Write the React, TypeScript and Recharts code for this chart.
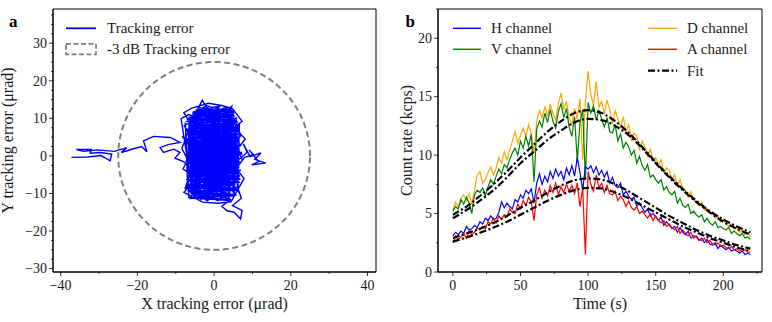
import React from 'react';
import { ComposedChart, Line, XAxis, YAxis, ReferenceArea } from 'recharts';

const FONT = '"Liberation Serif", "DejaVu Serif", "Times New Roman", serif';
const TEXT = '#1a1a1a';

// ---------- Panel a : tracking error ----------
const TRACK: [number, number][] = [
  [-37.2, -0.4], [-33, -0.3], [-29.5, 0.1], [-27.1, -1.3], [-26.7, 0.5], [-29.7, 0.9], [-32.3, 0.7], [-32, 1.7],
  [-35.9, 1.7], [-34, 1.2], [-30.5, 1.6], [-26, 1.2], [-22.8, 2.2], [-24.2, 0.9], [-21, 1.9], [-18.9, 2.5],
  [-17.5, 1.1], [-18.4, 4.0], [-15.8, 5.2], [-11.4, 4.9], [-8.9, 3.6], [-12, 3.0], [-14.1, 2.2], [-13.2, 0.9],
  [-10.5, 1.8], [-8.9, 0.9], [-10.2, -0.6], [-8.0, -1.5],
  [-5.2, -4.1], [-2.8, -1.0], [-4.6, 2.7], [-1.5, 5.3], [1.8, 3.2], [4.1, 6.0], [2.5, 9.4], [-0.8, 11.2],
  [-3.6, 8.7], [-5.9, 10.1], [-4.2, 12.6], [-1.9, 10.4], [0.7, 12.8], [3.2, 11.5], [5.4, 9.8], [4.8, 7.1],
  [6.3, 4.6], [3.7, 2.2], [5.6, -0.8], [2.9, -3.4], [4.7, -6.1], [1.6, -8.3], [-1.2, -6.0], [-3.8, -8.7],
  [-6.1, -6.4], [-4.3, -3.2], [-6.8, -0.9], [-5.1, 1.9], [-7.2, 4.3], [-4.7, 6.5], [-2.1, 3.9], [0.4, 6.8],
  [2.7, 4.5], [0.9, 1.2], [3.4, -1.6], [0.6, -3.9], [-2.0, -2.1], [-0.3, 0.7], [2.2, -0.4], [4.9, 2.6],
  [6.8, 0.9], [5.2, -2.9], [6.6, -5.3], [3.9, -8.2], [5.7, -10.4], [2.4, -11.1], [-0.9, -9.7], [-3.5, -11.6],
  [-5.7, -9.2], [-3.0, -6.6], [-5.5, -4.8], [-2.4, -5.4], [0.2, -7.1], [2.1, -5.0], [-0.6, -2.6], [-3.3, 0.4],
  [-1.0, 2.8], [1.5, 0.3], [-1.7, -1.4], [-4.4, -0.2], [-6.3, 2.8], [-3.9, 4.9], [-6.0, 7.6], [-3.2, 6.2],
  [-0.5, 8.9], [2.0, 7.0], [4.4, 8.6], [2.6, 10.8], [-0.2, 9.5], [-2.8, 11.9], [-5.3, 9.3], [-7.8, 8.1],
  [-6.4, 5.6], [-3.6, 2.0], [-5.8, -2.2], [-7.0, -4.9], [-4.9, -7.3], [-2.2, -8.9], [0.7, -10.6], [3.0, -9.4],
  [1.2, -6.5], [3.8, -4.3], [1.0, -1.8], [3.9, 0.6], [1.6, 2.6], [4.3, 4.2], [6.1, 2.0], [7.4, -1.2],
  [5.0, -3.8], [2.3, -2.3], [-0.8, -4.5], [-3.4, -3.0], [-1.4, 0.1], [-4.1, 1.5], [-2.3, 4.4], [0.6, 3.0],
  [3.1, 5.4], [5.6, 6.8], [3.5, 8.0], [0.8, 10.0], [-1.6, 7.5], [-4.5, 7.9], [-2.7, 9.8], [-4.9, 11.4],
  [-2.3, 13.2], [0.3, 11.6], [2.9, 12.9], [5.1, 11.2],
  [-6.2, -11.3], [5.1, -10.6], [-5.8, -9.9], [6.3, -9.1], [-7.1, -8.4], [5.6, -7.7], [-6.4, -6.8], [6.9, -6.2],
  [-5.9, -5.3], [5.8, -4.7], [-7.4, -3.9], [6.6, -3.1], [-6.1, -2.4], [7.2, -1.6], [-6.8, -0.8], [6.0, 0.1],
  [-7.0, 0.9], [6.8, 1.6], [-5.7, 2.5], [6.1, 3.3], [-6.9, 4.0], [5.4, 4.8], [-6.3, 5.7], [6.2, 6.4],
  [-7.2, 7.1], [5.0, 8.0], [-6.0, 8.8], [5.7, 9.5], [-6.6, 10.3], [4.9, 11.1], [-5.2, 11.8], [4.3, 12.5],
  [-4.8, 12.2], [5.3, 11.6], [-6.1, 10.8], [6.0, 10.0], [-7.4, 9.2], [5.5, 8.5], [-6.7, 7.6], [6.6, 6.9],
  [-6.0, 6.1], [5.9, 5.2], [-7.3, 4.5], [6.7, 3.7], [-6.2, 2.9], [5.5, 2.1], [-6.9, 1.3], [7.4, 0.5],
  [-6.4, -0.3], [6.3, -1.2], [-7.2, -2.0], [5.7, -2.8], [-6.6, -3.5], [6.4, -4.3], [-5.6, -5.1], [6.1, -5.9],
  [-7.0, -6.6], [5.2, -7.4], [-6.3, -8.1], [6.0, -8.9], [-5.5, -9.6], [4.6, -10.4], [-4.9, -11.2], [3.8, -11.9],
  [3.6, -7.5], [6.2, -8.6], [7.1, -11.3], [4.8, -13.2], [7.3, -14.5], [6.9, -16.8], [5.2, -15.0], [3.4, -14.6],
  [2.0, -13.4], [4.1, -11.8], [1.5, -10.0], [-1.8, -11.9], [-4.4, -10.1], [-2.6, -7.6], [0.4, -8.5], [2.8, -6.9],
  [5.9, -7.1], [4.2, -4.9], [6.4, -2.6], [7.9, -0.4], [10.3, 0.3], [9.1, 1.6], [11.6, -1.5], [9.8, -2.4],
  [13.4, -1.9], [10.6, -0.9], [12.2, 0.8], [9.4, -0.2],
  [7.6, 3.2], [8.6, 1.0], [6.0, -1.5], [3.3, 1.5], [0.2, -0.9], [-2.6, 1.2], [-5.4, -1.0], [-3.1, -3.8],
  [-6.3, -5.6], [-4.0, -7.9], [-6.9, -8.5], [-5.0, -11.0], [-2.1, -10.2], [0.9, -11.9], [3.5, -10.3], [1.9, -8.0],
  [-7.0, -8.6], [-6.5, 10.4], [-6.0, -10.2], [-5.4, 11.9], [-4.9, -11.0], [-4.3, 12.4], [-3.8, -10.5], [-3.2, 11.2],
  [-2.7, -11.4], [-2.1, 12.6], [-1.6, -10.1], [-1.0, 11.7], [-0.5, -11.6], [0.1, 12.3], [0.6, -10.8], [1.2, 11.0],
  [1.7, -11.2], [2.3, 12.1], [2.8, -10.3], [3.4, 11.4], [3.9, -11.0], [4.5, 10.6], [5.0, -9.8], [5.6, 9.9],
  [6.1, -8.9], [6.6, 8.6],
  [-0.9, -6.3], [-3.7, -5.0], [-1.1, -3.2], [1.7, -4.6], [4.4, -2.0], [2.1, 0.9], [-0.6, 2.1], [-3.0, -0.5],
  [-5.6, 0.6], [-3.5, 3.1], [-0.9, 4.6], [1.7, 6.3], [4.7, 5.2], [2.4, 2.8], [5.3, 1.1], [2.8, -1.1],
  [0.0, -2.4], [-2.7, -4.2], [-5.2, -2.8], [-7.3, 1.2], [-8.6, 9.9], [-6.6, 11.0], [-4.0, 9.9], [-1.3, 12.1],
  [1.8, 10.7], [4.6, 13.2], [3.9, 10.2], [6.0, 8.0], [3.2, 6.9], [0.3, 5.0], [-2.5, 6.7], [-5.0, 4.3],
  [6.3, -9.5], [5.8, 10.3], [5.2, -10.6], [4.7, 11.5], [4.1, -9.9], [3.6, 12.2], [3.0, -11.5], [2.5, 11.1],
  [1.9, -10.0], [1.4, 12.4], [0.8, -11.0], [0.3, 11.3], [-0.3, -10.3], [-0.8, 12.0], [-1.4, -11.3], [-1.9, 11.0],
  [-2.5, -10.0], [-3.0, 12.0], [-3.6, -11.2], [-4.1, 11.3], [-4.7, -10.1], [-5.2, 10.8], [-5.8, -9.4], [-6.3, 9.9],
  [-6.9, -7.8], [-7.5, 8.9],
  [-6.6, -11.1], [5.7, -10.3], [-6.9, -9.5], [5.9, -8.7], [-6.0, -7.9], [6.5, -7.1], [-7.3, -6.3], [5.4, -5.5],
  [-6.5, -4.7], [7.0, -3.9], [-6.2, -3.1], [6.2, -2.3], [-7.5, -1.5], [6.9, -0.7], [-6.0, 0.1], [7.3, 0.9],
  [-6.7, 1.7], [5.8, 2.5], [-7.1, 3.3], [6.4, 4.1], [-5.9, 4.9], [6.0, 5.7], [-7.0, 6.5], [5.6, 7.3],
  [-6.5, 8.1], [6.1, 8.9], [-7.1, 9.7], [5.2, 10.5], [-5.7, 11.3], [4.0, 12.1], [-4.4, 12.8],
  [5.0, 12.0], [-5.6, 11.4], [5.5, 10.6], [-6.9, 9.8], [6.3, 9.0], [-6.2, 8.2], [5.2, 7.4], [-7.0, 6.6],
  [6.4, 5.8], [-6.6, 5.0], [5.6, 4.2], [-7.2, 3.4], [6.9, 2.6], [-6.0, 1.8], [6.2, 1.0], [-7.4, 0.2],
  [5.9, -0.6], [-6.5, -1.4], [6.8, -2.2], [-5.8, -3.0], [6.0, -3.8], [-7.2, -4.6], [5.5, -5.4], [-6.1, -6.2],
  [6.7, -7.0], [-5.8, -7.8], [5.3, -8.6], [-6.8, -9.4], [4.9, -10.2], [-5.4, -11.0], [4.2, -11.6],
  [-8.3, 5.2], [-5.0, 3.0], [-8.1, -3.5], [-4.5, -6.0], [-7.9, -9.7], [-3.0, -12.3], [1.0, -12.6], [4.4, -12.2],
  [7.8, -6.0], [4.0, -1.0], [8.1, 4.5], [5.2, 7.6], [7.3, 9.2], [4.8, 12.6], [2.0, 13.4], [-1.5, 14.0],
  [-5.8, 12.7], [-7.9, 11.5], [-6.0, 8.4], [-8.4, 2.0], [-6.5, -1.8],
  [-4.2, -6.8], [2.9, 3.1], [-5.5, 9.0], [4.0, -8.8], [-1.2, 6.4], [5.8, -1.9], [-6.7, -5.0], [1.6, 11.9],
  [-2.9, -9.6], [6.2, 7.5], [-3.8, 0.8], [3.3, -11.4], [-6.1, 3.6], [0.2, -5.8], [4.9, 9.8], [-5.2, -10.5],
  [2.2, -2.0], [-0.7, 10.2], [6.6, -6.3], [-7.1, 6.8], [1.1, -9.9], [-3.0, 4.9], [5.4, 0.4], [-4.8, -2.6],
  [3.8, 6.0], [-1.9, -11.8], [0.5, 8.1], [-6.4, -7.9], [4.6, -4.4], [-2.4, 12.4], [6.9, 2.9], [-5.9, 0.0],
  [2.6, -7.3], [-0.4, 1.9],
  [-2.2, 1.8], [0.8, -0.3], [3.6, -2.9], [1.1, -5.6], [-1.9, -7.3], [-4.7, -5.9], [-2.0, -3.6], [1.4, -2.6],
  [4.0, -5.6], [6.5, -4.0], [5.5, -6.8], [2.6, -8.9], [-0.4, -9.2], [-3.3, -9.9], [-6.2, -7.4], [-7.6, -8.8],
  [-5.9, -3.6], [-3.6, -1.4], [-0.8, 1.6], [2.4, 3.7], [5.0, 3.6], [7.0, 5.4], [5.8, 8.6], [2.0, 8.6],
  [-1.0, 6.1], [-3.8, 5.5], [-1.2, 3.3], [1.9, 1.8], [4.5, -0.2], [6.2, -3.2], [3.1, -5.2], [0.3, -3.3],
  [-2.4, -0.8], [-4.7, 3.6], [-2.0, 7.0], [1.0, 8.2], [-1.4, 9.9], [-4.6, 10.5], [-3.8, 13.4], [-3.1, 14.8],
  [-2.4, 13.6], [-0.7, 12.9], [1.5, 13.2], [-1.0, 10.9], [0.9, 9.0], [3.6, 9.6], [1.3, 7.3], [-1.8, 8.2],
  [-0.3, 4.9], [-3.4, 4.2], [-1.6, 1.5], [1.0, -1.2], [-1.3, -4.9], [-4.0, -2.4], [-1.7, 0.4], [0.5, 2.3],
  [2.9, 0.0], [0.0, -1.4],
];
const CIRCLE_RADIUS = 25; // -3 dB tracking-error radius (µrad)

const A_X_MAJOR = [-40, -20, 0, 20, 40];
const A_X_MINOR = [-30, -10, 10, 30];
const A_Y_MAJOR = [-30, -20, -10, 0, 10, 20, 30];
const A_Y_MINOR = [-27.5, -25, -22.5, -17.5, -15, -12.5, -7.5, -5, -2.5, 2.5, 5, 7.5, 12.5, 15, 17.5, 22.5, 25, 27.5, 32.5, 35, 37.5];
const A_X_DOMAIN: [number, number] = [-42, 42.2];
const A_Y_DOMAIN: [number, number] = [-30.9, 39.1];

// ---------- Panel b : count rates ----------
const TIME_STEP = 2;
const H_CH = [
  3.1, 3.4, 3.2, 3.5, 3.3, 3.9, 3.6, 3.7, 4.0, 3.8,
  4.3, 4.1, 4.6, 4.4, 4.8, 4.5, 4.6, 5.1, 6.0, 5.5,
  5.9, 5.6, 5.4, 6.2, 6.0, 6.6, 6.3, 7.0, 6.7, 7.1,
  5.9, 7.6, 8.4, 7.5, 8.2, 7.7, 8.6, 8.0, 8.8, 8.2,
  8.6, 7.9, 8.9, 8.3, 9.1, 8.2, 9.8, 8.5, 7.0, 9.0,
  8.8, 9.1, 8.5, 9.0, 8.3,
  8.7, 8.1, 8.6, 7.6, 8.1, 7.4, 7.2, 7.6, 6.6, 6.9,
  6.5, 6.2, 6.4, 5.6, 5.9, 5.5, 5.1, 5.4, 4.8, 5.0,
  4.7, 4.4, 4.7, 4.0, 4.3, 4.0, 3.7, 3.9, 3.4, 3.8,
  3.4, 3.2, 3.5, 2.9, 3.1, 3.0, 2.7, 2.9, 2.5, 2.8,
  2.4, 2.3, 2.5, 2.0, 2.3, 2.1, 1.9, 2.1, 1.8, 1.9,
  1.8, 1.6, 1.8, 1.5, 1.6, 1.5,
];
const V_CH = [
  5.2, 5.6, 5.4, 6.2, 5.8, 6.4, 5.9, 5.0, 6.6, 7.0,
  6.8, 7.2, 6.5, 7.3, 7.9, 7.5, 8.2, 8.8, 8.4, 9.2,
  8.9, 9.6, 10.2, 10.6, 10.0, 11.2, 10.6, 11.6, 10.8, 11.8,
  7.7, 12.2, 12.9, 12.4, 13.6, 12.8, 13.9, 12.9, 12.3, 13.7,
  14.4, 13.2, 14.0, 12.4, 11.6, 13.3, 9.5, 12.8, 13.9, 7.9,
  14.5, 13.6, 14.2, 13.0, 13.8,
  13.1, 12.4, 13.2, 12.0, 11.9, 12.6, 11.2, 11.8, 10.6, 11.1,
  10.7, 10.0, 10.4, 9.3, 9.9, 9.1, 8.7, 9.2, 8.1, 8.3,
  7.9, 7.6, 7.9, 7.0, 7.3, 6.8, 6.6, 6.9, 5.9, 6.3,
  5.7, 5.5, 5.8, 5.0, 5.2, 4.9, 4.7, 4.9, 4.3, 4.6,
  4.2, 4.0, 4.3, 3.8, 3.9, 3.7, 3.6, 3.8, 3.3, 3.5,
  3.3, 3.1, 3.3, 2.9, 3.0, 2.8,
];
const D_CH = [
  5.3, 6.0, 5.6, 6.3, 6.6, 6.1, 6.7, 5.8, 7.0, 8.3,
  8.6, 7.6, 7.9, 8.5, 9.0, 8.3, 8.9, 9.8, 9.3, 10.3,
  9.6, 10.4, 11.2, 12.0, 11.0, 11.7, 12.3, 11.6, 12.6, 11.8,
  10.2, 12.9, 13.8, 13.2, 14.1, 13.4, 14.3, 13.6, 13.0, 14.4,
  15.3, 13.9, 14.6, 13.2, 12.6, 14.0, 13.1, 14.8, 9.6, 14.6,
  17.2, 15.2, 14.3, 16.3, 14.1,
  14.6, 13.5, 14.7, 13.9, 12.7, 13.8, 13.1, 12.4, 13.3, 12.0,
  12.6, 11.3, 11.9, 11.6, 10.4, 11.2, 10.7, 9.9, 10.5, 9.6,
  9.8, 9.1, 9.6, 8.5, 8.9, 8.7, 7.9, 8.3, 7.4, 7.9,
  7.2, 7.0, 6.4, 6.9, 6.1, 6.0, 5.7, 6.0, 5.3, 5.4,
  5.0, 5.1, 4.6, 4.8, 4.3, 4.5, 4.1, 3.9, 4.1, 3.7,
  3.8, 3.4, 3.6, 3.2, 3.3, 3.0,
];
const A_CH = [
  2.5, 3.1, 2.8, 3.0, 3.3, 2.9, 3.5, 3.2, 3.4, 3.8,
  3.6, 3.9, 3.7, 4.3, 4.1, 4.6, 4.2, 4.8, 4.5, 4.9,
  4.7, 5.4, 5.1, 5.0, 5.8, 5.4, 6.1, 5.7, 6.4, 6.0,
  4.4, 6.6, 7.2, 6.3, 7.0, 6.5, 7.4, 6.8, 7.6, 6.6,
  7.3, 6.8, 7.5, 6.9, 7.4, 6.7, 7.6, 5.6, 7.2, 1.5,
  8.6, 7.5, 6.9, 8.3, 7.2,
  7.6, 6.8, 7.4, 6.7, 6.6, 6.9, 6.1, 6.5, 6.2, 5.6,
  6.1, 5.5, 5.3, 5.6, 5.0, 5.2, 4.9, 4.6, 5.0, 4.4,
  4.8, 4.4, 4.2, 4.4, 3.9, 4.1, 3.8, 3.6, 3.9, 3.3,
  3.6, 3.3, 3.1, 3.4, 2.9, 3.1, 2.8, 2.7, 2.9, 2.5,
  2.7, 2.4, 2.3, 2.5, 2.2, 2.3, 2.1, 2.0, 2.2, 1.9,
  2.0, 1.8, 1.8, 1.9, 1.7, 1.7,
];
const FIT_STEP = 10;
const FIT_D = [4.9, 5.6, 6.5, 7.5, 8.6, 9.8, 10.9, 12.0, 12.9, 13.6, 13.85, 13.6, 12.9, 11.9, 10.7, 9.4, 8.2, 7.1, 6.1, 5.2, 4.5, 3.9, 3.4];
const FIT_V = [4.6, 5.3, 6.1, 7.0, 8.1, 9.3, 10.3, 11.3, 12.1, 12.8, 13.1, 13.0, 12.5, 11.7, 10.6, 9.3, 8.1, 7.0, 6.0, 5.1, 4.3, 3.7, 3.2];
const FIT_H = [2.9, 3.3, 3.7, 4.2, 4.8, 5.5, 6.1, 6.8, 7.4, 7.85, 8.0, 7.9, 7.5, 6.9, 6.2, 5.5, 4.8, 4.2, 3.6, 3.1, 2.7, 2.3, 2.0];
const FIT_A = [2.6, 2.95, 3.35, 3.8, 4.3, 4.9, 5.5, 6.1, 6.6, 7.0, 7.2, 7.15, 6.8, 6.3, 5.7, 5.1, 4.5, 3.9, 3.4, 2.9, 2.5, 2.1, 1.8];

const B_X_MAJOR = [0, 50, 100, 150, 200];
const B_X_MINOR = [25, 75, 125, 175, 225];
const B_Y_MAJOR = [0, 5, 10, 15, 20];
const B_Y_MINOR = [2.5, 7.5, 12.5, 17.5, 22.5];
const B_X_DOMAIN: [number, number] = [-11, 228.6];
const B_Y_DOMAIN: [number, number] = [0, 22.5];

// ---------- derived tables ----------
const trackData = TRACK.map(([x, y]) => ({ x, y }));
const circleData = Array.from({ length: 121 }, (_, i) => {
  const a = (i / 120) * 2 * Math.PI;
  return { x: CIRCLE_RADIUS * Math.cos(a), y: CIRCLE_RADIUS * Math.sin(a) };
});
const countData = H_CH.map((h, i) => {
  const t = i * TIME_STEP;
  const row: Record<string, number | undefined> = { t, H: h, V: V_CH[i], D: D_CH[i], A: A_CH[i] };
  if (t % FIT_STEP === 0) {
    const k = t / FIT_STEP;
    row.fD = FIT_D[k];
    row.fV = FIT_V[k];
    row.fH = FIT_H[k];
    row.fA = FIT_A[k];
  }
  return row;
});

const fmt = (v: number) => (v < 0 ? '\u2212' + Math.abs(v) : String(v));

function makeXTick(major: number[]) {
  return (props: any) => {
    const { x, y, payload } = props;
    const v = payload.value;
    const isMajor = major.includes(v);
    return (
      <g>
        <line x1={x} y1={y} x2={x} y2={y + (isMajor ? 4 : 2)} stroke="#000" strokeWidth={0.8} />
        {isMajor ? (
          <text x={x} y={y + 18} textAnchor="middle" fontSize={14} fontFamily={FONT} fill={TEXT}>
            {fmt(v)}
          </text>
        ) : null}
      </g>
    );
  };
}
function makeYTick(major: number[]) {
  return (props: any) => {
    const { x, y, payload } = props;
    const v = payload.value;
    const isMajor = major.includes(v);
    return (
      <g>
        <line x1={x - (isMajor ? 4 : 2)} y1={y} x2={x} y2={y} stroke="#000" strokeWidth={0.8} />
        {isMajor ? (
          <text x={x - 6} y={y + 4.8} textAnchor="end" fontSize={14} fontFamily={FONT} fill={TEXT}>
            {fmt(v)}
          </text>
        ) : null}
      </g>
    );
  };
}

const titleStyle = { fontSize: 16, fontFamily: FONT, fill: TEXT };
const FIT_DASH = '7 2.5 2 2.5';

function PanelA() {
  return (
    <ComposedChart width={390} height={322} margin={{ top: 9, right: 14, bottom: 0, left: 8 }}>
      <XAxis
        type="number"
        dataKey="x"
        domain={A_X_DOMAIN}
        allowDataOverflow
        ticks={[...A_X_MAJOR, ...A_X_MINOR].sort((a, b) => a - b)}
        interval={0}
        tickSize={0}
        tickMargin={0}
        tickLine={false}
        tick={makeXTick(A_X_MAJOR)}
        height={50}
        axisLine={{ stroke: '#000' }}
        label={{ value: 'X tracking error (\u03bcrad)', position: 'insideBottom', offset: 13, ...titleStyle }}
      />
      <YAxis
        type="number"
        dataKey="y"
        domain={A_Y_DOMAIN}
        allowDataOverflow
        ticks={[...A_Y_MAJOR, ...A_Y_MINOR].sort((a, b) => a - b)}
        interval={0}
        tickSize={0}
        tickMargin={0}
        tickLine={false}
        tick={makeYTick(A_Y_MAJOR)}
        width={45}
        axisLine={{ stroke: '#000' }}
        label={{ value: 'Y tracking error (\u03bcrad)', angle: -90, position: 'insideLeft', offset: -1, style: { textAnchor: 'middle' }, ...titleStyle }}
      />
      <Line data={circleData} dataKey="y" type="linear" dot={false} stroke="#7f7f7f" strokeWidth={2} strokeDasharray="6 3.5" isAnimationActive={false} name="-3 dB Tracking error" />
      <Line data={trackData} dataKey="y" type="linear" dot={false} stroke="#0000ff" strokeWidth={1.4} isAnimationActive={false} name="Tracking error" />
      <ReferenceArea x1={A_X_DOMAIN[0]} x2={A_X_DOMAIN[1]} y1={A_Y_DOMAIN[0]} y2={A_Y_DOMAIN[1]} fill="none" stroke="#000" strokeWidth={1} />
    </ComposedChart>
  );
}

function PanelB() {
  return (
    <ComposedChart width={382} height={322} data={countData} margin={{ top: 9, right: 10, bottom: 0, left: 8 }}>
      <XAxis
        type="number"
        dataKey="t"
        domain={B_X_DOMAIN}
        allowDataOverflow
        ticks={[...B_X_MAJOR, ...B_X_MINOR].sort((a, b) => a - b)}
        interval={0}
        tickSize={0}
        tickMargin={0}
        tickLine={false}
        tick={makeXTick(B_X_MAJOR)}
        height={50}
        axisLine={{ stroke: '#000' }}
        label={{ value: 'Time (s)', position: 'insideBottom', offset: 13, ...titleStyle }}
      />
      <YAxis
        type="number"
        domain={B_Y_DOMAIN}
        allowDataOverflow
        ticks={[...B_Y_MAJOR, ...B_Y_MINOR].sort((a, b) => a - b)}
        interval={0}
        tickSize={0}
        tickMargin={0}
        tickLine={false}
        tick={makeYTick(B_Y_MAJOR)}
        width={40}
        axisLine={{ stroke: '#000' }}
        label={{ value: 'Count rate (kcps)', angle: -90, position: 'insideLeft', offset: 8.5, style: { textAnchor: 'middle' }, ...titleStyle }}
      />
      <Line dataKey="D" name="D channel" type="linear" dot={false} stroke="#ffa500" strokeWidth={1.2} isAnimationActive={false} />
      <Line dataKey="V" name="V channel" type="linear" dot={false} stroke="#008000" strokeWidth={1.2} isAnimationActive={false} />
      <Line dataKey="H" name="H channel" type="linear" dot={false} stroke="#0000ff" strokeWidth={1.2} isAnimationActive={false} />
      <Line dataKey="A" name="A channel" type="linear" dot={false} stroke="#ff0000" strokeWidth={1.2} isAnimationActive={false} />
      <Line dataKey="fD" name="Fit" type="monotone" connectNulls dot={false} stroke="#000" strokeWidth={2.2} strokeDasharray={FIT_DASH} isAnimationActive={false} />
      <Line dataKey="fV" name="Fit V" legendType="none" type="monotone" connectNulls dot={false} stroke="#000" strokeWidth={2.2} strokeDasharray={FIT_DASH} isAnimationActive={false} />
      <Line dataKey="fH" name="Fit H" legendType="none" type="monotone" connectNulls dot={false} stroke="#000" strokeWidth={2.2} strokeDasharray={FIT_DASH} isAnimationActive={false} />
      <Line dataKey="fA" name="Fit A" legendType="none" type="monotone" connectNulls dot={false} stroke="#000" strokeWidth={2.2} strokeDasharray={FIT_DASH} isAnimationActive={false} />
      <ReferenceArea x1={B_X_DOMAIN[0]} x2={B_X_DOMAIN[1]} y1={B_Y_DOMAIN[0]} y2={B_Y_DOMAIN[1]} fill="none" stroke="#000" strokeWidth={1} />
    </ComposedChart>
  );
}

const LEGEND_A = [
  { label: 'Tracking error', color: '#0000ff', kind: 'line' },
  { label: '-3\u2009dB Tracking error', color: '#7f7f7f', kind: 'patch' },
];
const LEGEND_B = [
  { label: 'H channel', color: '#0000ff', dash: '' },
  { label: 'V channel', color: '#008000', dash: '' },
  { label: 'D channel', color: '#ffa500', dash: '' },
  { label: 'A channel', color: '#ff0000', dash: '' },
  { label: 'Fit', color: '#000', dash: FIT_DASH },
];

function Overlay() {
  const txt = { fontSize: 15, fontFamily: FONT, fill: TEXT };
  const rowY = [28.3, 49.3, 70.7];
  const colB = [
    { x0: 453, x1: 481, tx: 491 },
    { x0: 648, x1: 677, tx: 687 },
  ];
  return (
    <svg width={772} height={322} style={{ position: 'absolute', left: 0, top: 0, pointerEvents: 'none' }}>
      <text x={9} y={26.7} fontSize={17} fontWeight="bold" fontFamily={FONT} fill="#000">a</text>
      <text x={405.5} y={26.7} fontSize={17} fontWeight="bold" fontFamily={FONT} fill="#000">b</text>
      {LEGEND_A.map((it, i) => (
        <g key={it.label}>
          {it.kind === 'line' ? (
            <line x1={66} x2={96} y1={rowY[i]} y2={rowY[i]} stroke={it.color} strokeWidth={1.8} />
          ) : (
            <rect x={66} y={rowY[i] - 5.5} width={30} height={10.5} fill="none" stroke={it.color} strokeWidth={1.8} strokeDasharray="5 2.5" />
          )}
          <text x={107} y={rowY[i] + 4.8} {...txt}>{it.label}</text>
        </g>
      ))}
      {LEGEND_B.map((it, i) => {
        const col = i < 2 ? colB[0] : colB[1];
        const row = i < 2 ? i : i - 2;
        const y = rowY[row];
        return (
          <g key={it.label}>
            <line x1={col.x0} x2={col.x1} y1={y} y2={y} stroke={it.color} strokeWidth={it.dash ? 2.2 : 1.4} strokeDasharray={it.dash || undefined} />
            <text x={col.tx} y={y + 4.8} {...txt}>{it.label}</text>
          </g>
        );
      })}
    </svg>
  );
}

export default function App() {
  return (
    <div style={{ position: 'absolute', left: 0, top: 0, width: 772, height: 322, background: '#fff' }}>
      <div style={{ position: 'absolute', left: 0, top: 0 }}>
        <PanelA />
      </div>
      <div style={{ position: 'absolute', left: 390, top: 0 }}>
        <PanelB />
      </div>
      <Overlay />
    </div>
  );
}
